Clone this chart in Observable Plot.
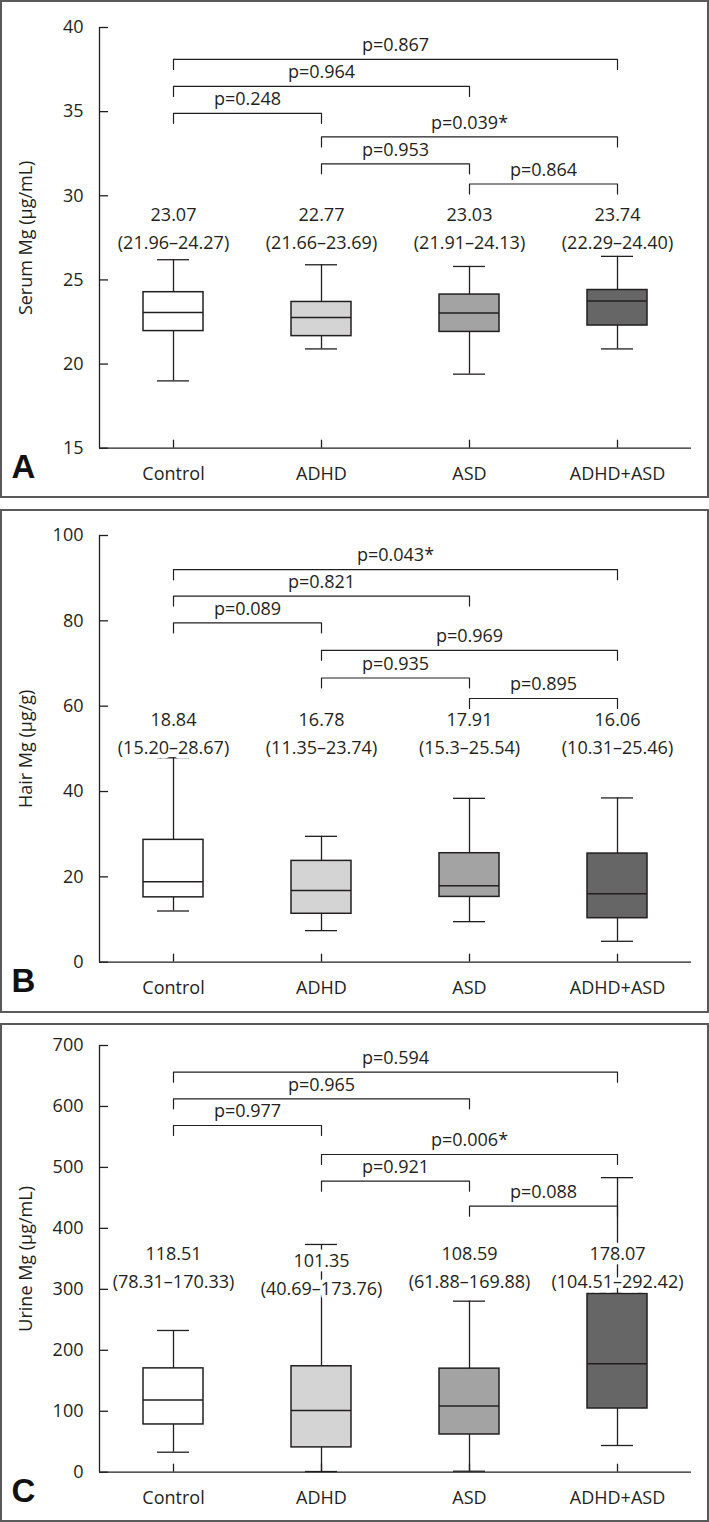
<!DOCTYPE html>
<html>
<head>
<meta charset="utf-8">
<script src="https://cdn.jsdelivr.net/npm/d3@7"></script>
<script src="https://cdn.jsdelivr.net/npm/@observablehq/plot@0.6"></script>
<style>
  html, body { margin: 0; padding: 0; background: #fff; }
  #root { position: relative; width: 709px; height: 1522px; }
  .panel { position: absolute; left: 0; width: 709px; }
  .panel svg { position: absolute; left: 0; top: 0; }
  .border { position: absolute; left: 0; top: 0; right: 0; bottom: 0; border: 2px solid #5a5a5a; box-sizing: border-box; pointer-events: none; }
</style>
</head>
<body>
<div id="root"></div>
<script>
// ---- categories ----
const groups = ["Control", "ADHD", "ASD", "ADHD+ASD"];

// ---- pairwise comparisons (same pairs in every panel) ----
const compFrom = ["Control", "Control", "Control", "ADHD", "ADHD", "ASD"];
const compTo   = ["ADHD+ASD", "ASD", "ADHD", "ADHD+ASD", "ASD", "ADHD+ASD"];

// ---- A: Serum Mg ----
const serumMin    = [19.0, 20.9, 19.4, 20.9];
const serumQ1     = [21.96, 21.66, 21.91, 22.29];
const serumMedian = [23.07, 22.77, 23.03, 23.74];
const serumQ3     = [24.27, 23.69, 24.13, 24.40];
const serumMax    = [26.2, 25.9, 25.8, 26.4];
const serumStatText = ["23.07\n(21.96–24.27)", "22.77\n(21.66–23.69)", "23.03\n(21.91–24.13)", "23.74\n(22.29–24.40)"];
const serumStatY  = [28.2, 28.2, 28.2, 28.2];
const serumP      = ["p=0.867", "p=0.964", "p=0.248", "p=0.039*", "p=0.953", "p=0.864"];
const serumBracketY = [38.1, 36.5, 34.9, 33.5, 31.9, 30.7];
const serumTicks  = [15, 20, 25, 30, 35, 40];

// ---- B: Hair Mg ----
const hairMin    = [12.0, 7.4, 9.5, 4.9];
const hairQ1     = [15.20, 11.35, 15.3, 10.31];
const hairMedian = [18.84, 16.78, 17.91, 16.06];
const hairQ3     = [28.67, 23.74, 25.54, 25.46];
const hairMax    = [47.9, 29.5, 38.4, 38.5];
const hairStatText = ["18.84\n(15.20–28.67)", "16.78\n(11.35–23.74)", "17.91\n(15.3–25.54)", "16.06\n(10.31–25.46)"];
const hairStatY  = [54.1, 54.1, 54.1, 54.1];
const hairP      = ["p=0.043*", "p=0.821", "p=0.089", "p=0.969", "p=0.935", "p=0.895"];
const hairBracketY = [92.0, 85.8, 79.5, 73.1, 66.6, 61.8];
const hairTicks  = [0, 20, 40, 60, 80, 100];

// ---- C: Urine Mg ----
const urineMin    = [32.8, 1.1, 1.6, 43.8];
const urineQ1     = [78.31, 40.69, 61.88, 104.51];
const urineMedian = [118.51, 101.35, 108.59, 178.07];
const urineQ3     = [170.33, 173.76, 169.88, 292.42];
const urineMax    = [232.5, 373.6, 280.6, 483.2];
const urineStatText = ["118.51\n(78.31–170.33)", "101.35\n(40.69–173.76)", "108.59\n(61.88–169.88)", "178.07\n(104.51–292.42)"];
const urineStatY  = [340.5, 328.8, 340.5, 340.5];
const urineP      = ["p=0.594", "p=0.965", "p=0.977", "p=0.006*", "p=0.921", "p=0.088"];
const urineBracketY = [656.3, 612.6, 568.8, 521.2, 477.4, 436.4];
const urineTicks  = [0, 100, 200, 300, 400, 500, 600, 700];

// ---- styles ----
const groupFills = ["#ffffff", "#d4d4d4", "#a3a3a3", "#666666"];
const ink = "#231f20";
const font = "'Open Sans', 'Liberation Sans', sans-serif";

function makePanel(cfg) {
  const {letter, top, height, marginTop, marginBottom, domain, ticks, label,
         mins, q1s, meds, q3s, maxs, statText, statY, pText, pY} = cfg;
  const W = 709, ML = 99, MR = 18;
  const xDomain = [-0.5, 3.5];
  const idx = groups.map((g, i) => i);
  const boxes = groups.map((g, i) => ({
    i, g, min: mins[i], q1: q1s[i], med: meds[i], q3: q3s[i], max: maxs[i],
    fill: groupFills[i], text: statText[i], ty: statY[i]
  }));
  const pxPerUnit = (height - marginTop - marginBottom) / (domain[1] - domain[0]);
  const drop = 10 / pxPerUnit;      // bracket leg length (10px) in data units
  const xTickLen = 8 / pxPerUnit;   // x-axis tick length (8px) in data units
  const brackets = pText.map((p, k) => ({
    k, a: groups.indexOf(compFrom[k]), b: groups.indexOf(compTo[k]), y: pY[k], p
  }));
  const bracketPts = brackets.flatMap(d => [
    {k: d.k, x: d.a, y: d.y - drop},
    {k: d.k, x: d.a, y: d.y},
    {k: d.k, x: d.b, y: d.y},
    {k: d.k, x: d.b, y: d.y - drop}
  ]);

  const svg = Plot.plot({
    width: W, height, marginTop, marginBottom, marginLeft: ML, marginRight: MR,
    style: {fontFamily: font, fontSize: "18px", color: ink, background: "transparent", overflow: "visible"},
    x: {type: "linear", domain: xDomain, label: null},
    y: {domain, label: null},
    color: {type: "identity"},
    marks: [
      // axis lines
      Plot.ruleX([xDomain[0]], {y1: domain[0], y2: domain[1], stroke: ink, strokeWidth: 1.3}),
      Plot.ruleY([domain[0]], {stroke: ink, strokeWidth: 1.3}),
      // inward tick marks
      Plot.ruleY(ticks, {y: d => d, x1: xDomain[0], x2: xDomain[0], insetRight: -9, stroke: ink, strokeWidth: 1.3}),
      Plot.ruleX(idx, {x: d => d, y1: domain[0], y2: domain[0] + xTickLen, stroke: ink, strokeWidth: 1.3}),
      // tick labels + axis title
      Plot.axisY({ticks, tickSize: 0, tickPadding: 16, fill: ink, fontSize: 18,
                  label, labelAnchor: "center", labelOffset: 80, labelArrow: "none",
                  tickFormat: d => String(d)}),
      Plot.axisX({ticks: idx, tickFormat: i => groups[i], tickSize: 0, tickPadding: 19,
                  fill: ink, fontSize: 18, label: null}),
      // boxes
      Plot.ruleX(boxes, {x: "i", y1: "min", y2: "max", stroke: ink, strokeWidth: 1.3}),
      Plot.rect(boxes, {x1: "i", x2: "i", y1: "q1", y2: "q3", insetLeft: -30, insetRight: -30,
                        fill: "fill", stroke: ink, strokeWidth: 1.5}),
      Plot.ruleY(boxes, {x1: "i", x2: "i", y: "med", insetLeft: -30, insetRight: -30, stroke: ink, strokeWidth: 1.5}),
      Plot.ruleY(boxes, {x1: "i", x2: "i", y: "max", insetLeft: -16, insetRight: -16, stroke: ink, strokeWidth: 1.3}),
      Plot.ruleY(boxes, {x1: "i", x2: "i", y: "min", insetLeft: -16, insetRight: -16, stroke: ink, strokeWidth: 1.3}),
      // comparison brackets
      Plot.line(bracketPts, {x: "x", y: "y", z: "k", stroke: ink, strokeWidth: 1.2}),
      Plot.text(brackets, {x: d => (d.a + d.b) / 2, y: "y", text: "p", dy: -14, fill: ink, fontSize: 18}),
      // median and IQR labels
      Plot.text(boxes, {x: "i", y: "ty", text: "text", lineHeight: 1.56, fontSize: 18, fill: ink,
                        stroke: "white", strokeWidth: 9, paintOrder: "stroke"}),
      // panel letter
      Plot.text([letter], {text: d => d, frameAnchor: "bottom-left", dx: -76, dy: 29.5, textAnchor: "middle",
                           fontSize: 33, fontWeight: "bold", fontFamily: "'Liberation Sans', Arial, sans-serif", fill: "#111"})
    ]
  });

  const div = document.createElement("div");
  div.className = "panel";
  div.style.top = top + "px";
  div.style.height = height + "px";
  div.appendChild(svg);
  const border = document.createElement("div");
  border.className = "border";
  div.appendChild(border);
  document.getElementById("root").appendChild(div);
}

makePanel({letter: "A", top: 0, height: 498, marginTop: 27, marginBottom: 50.3, domain: [15, 40],
  ticks: serumTicks, label: "Serum Mg (μg/mL)",
  mins: serumMin, q1s: serumQ1, meds: serumMedian, q3s: serumQ3, maxs: serumMax,
  statText: serumStatText, statY: serumStatY, pText: serumP, pY: serumBracketY});

makePanel({letter: "B", top: 509, height: 504, marginTop: 26, marginBottom: 51.3, domain: [0, 100],
  ticks: hairTicks, label: "Hair Mg (μg/g)",
  mins: hairMin, q1s: hairQ1, meds: hairMedian, q3s: hairQ3, maxs: hairMax,
  statText: hairStatText, statY: hairStatY, pText: hairP, pY: hairBracketY});

makePanel({letter: "C", top: 1023, height: 499, marginTop: 22, marginBottom: 50.3, domain: [0, 700],
  ticks: urineTicks, label: "Urine Mg (μg/mL)",
  mins: urineMin, q1s: urineQ1, meds: urineMedian, q3s: urineQ3, maxs: urineMax,
  statText: urineStatText, statY: urineStatY, pText: urineP, pY: urineBracketY});
</script>
</body>
</html>
